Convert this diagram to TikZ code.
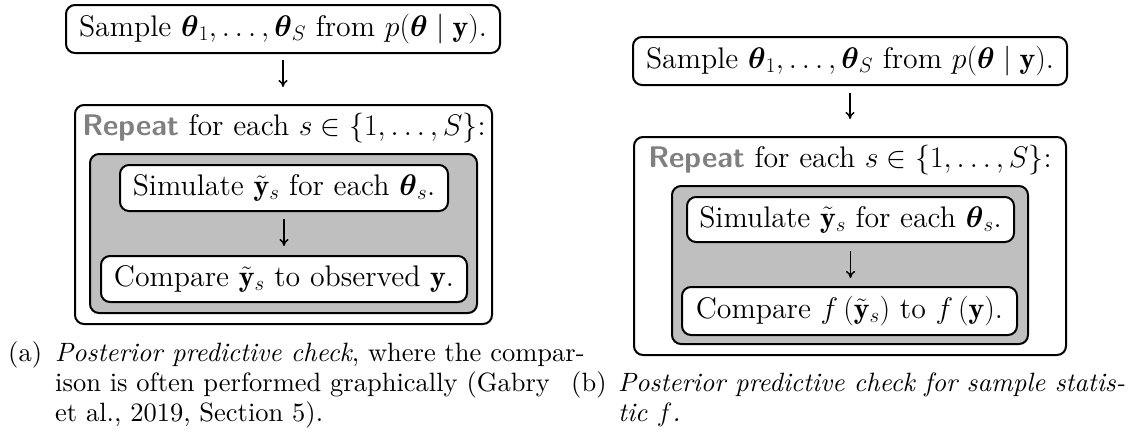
\RequirePackage{fix-cm}
\documentclass[tikz,border=0pt]{standalone}
\usepackage{amsmath,amssymb}
\usepackage{fontspec}
\usetikzlibrary{arrows.meta}
\newfontfamily\dfam{lmroman12-regular.otf}[BoldFont=lmroman12-bold.otf, ItalicFont=lmroman12-italic.otf]
\newfontfamily\cfam{lmroman10-regular.otf}[BoldFont=lmroman10-bold.otf, ItalicFont=lmroman10-italic.otf]
\newfontfamily\repfam{lmsans10-bold.otf}
\newcommand\dfont{\dfam\fontsize{29.8}{35}\selectfont}
\newcommand\cfont{\cfam\fontsize{26.5}{31}\selectfont}
\newcommand\rep{\textcolor{gray}{\repfam Repeat}}
\begin{document}
\begin{tikzpicture}[x=1pt,y=-1pt,
  box/.style={draw, line width=2pt, rounded corners=9pt, fill=white, inner sep=0pt, font=\dfont},
  frame/.style={draw, line width=2pt, rounded corners=9pt, fill=white, inner sep=0pt},
  grayframe/.style={draw, line width=2pt, rounded corners=9pt, fill=gray!50, inner sep=0pt},
  flow/.style={-{To[length=7pt,width=9pt]}, line width=1.5pt},
  captext/.style={font=\cfont, anchor=base west, inner sep=0pt}]
\useasboundingbox (0,0) rectangle (1134,437);
% ---- left diagram
\node[box, minimum width=434pt, minimum height=48pt] (la) at (283,29) {Sample $\boldsymbol{\theta}_1,\dots,\boldsymbol{\theta}_S$ from $p(\boldsymbol{\theta}\mid\mathbf{y})$.};
\node[frame, minimum width=417pt, minimum height=219pt] (lr) at (283.5,214.5) {};
\node[font=\dfont, anchor=base, inner sep=0pt] (lrt) at (284,135) {\rep{} for each $s\in\{1,\dots,S\}$:};
\node[grayframe, minimum width=387pt, minimum height=159pt] (lg) at (283.5,233.5) {};
\node[box, minimum width=328pt, minimum height=46pt] (ls) at (284,188) {Simulate $\tilde{\mathbf{y}}_s$ for each $\boldsymbol{\theta}_s$.};
\node[box, minimum width=366pt, minimum height=46pt] (lc) at (284,279) {Compare $\tilde{\mathbf{y}}_s$ to observed $\mathbf{y}$.};
\draw[flow, shorten <=6pt, shorten >=17pt] (la.south) -- (la.south |- lr.north);
\draw[flow, shorten <=7pt, shorten >=9pt] (ls.south) -- (ls.south |- lc.north);
% ---- right diagram
\node[box, minimum width=434pt, minimum height=48pt] (ra) at (850,61) {Sample $\boldsymbol{\theta}_1,\dots,\boldsymbol{\theta}_S$ from $p(\boldsymbol{\theta}\mid\mathbf{y})$.};
\node[frame, minimum width=432pt, minimum height=218pt] (rr) at (850,246) {};
\node[font=\dfont, anchor=base, inner sep=0pt] (rrt) at (850,167) {\rep{} for each $s\in\{1,\dots,S\}$:};
\node[grayframe, minimum width=356pt, minimum height=158pt] (rg) at (850,265) {};
\node[box, minimum width=327pt, minimum height=45pt] (rs) at (850.5,219.5) {Simulate $\tilde{\mathbf{y}}_s$ for each $\boldsymbol{\theta}_s$.};
\node[box, minimum width=335pt, minimum height=48pt] (rc) at (849.5,311) {Compare $f\left(\tilde{\mathbf{y}}_s\right)$ to $f\left(\mathbf{y}\right)$.};
\draw[flow, shorten <=7pt, shorten >=17pt] (ra.south) -- (ra.south |- rr.north);
\draw[flow, shorten <=8pt, shorten >=8pt] (rs.south) -- (rs.south |- rc.north);
% ---- captions
\node[captext] (capa) at (8,361) {(a)};
\node[captext] (capa1) at (55,361) {\textit{Posterior predictive check}, where the compar-};
\node[captext] (capa2) at (55,391) {ison is often performed graphically (Gabry};
\node[captext] (capa3) at (55,421) {et al., 2019, Section 5).};
\node[captext] (capb) at (571,391) {(b)};
\node[captext] (capb1) at (618,391) {\textit{Posterior predictive check for sample statis-}};
\node[captext] (capb2) at (618,421) {\textit{tic $f$.}};
\end{tikzpicture}
\end{document}
